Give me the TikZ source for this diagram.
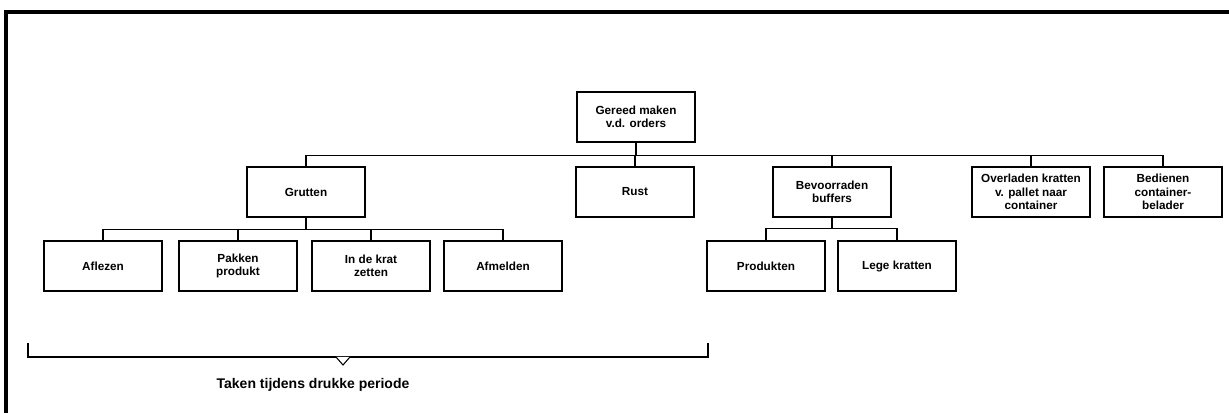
\documentclass[tikz,border=0pt]{standalone}
\usepackage{fontspec}
\setmainfont{Liberation Sans}
\begin{document}
\begin{tikzpicture}[x=0.75pt,y=-0.75pt,
  box/.style={draw, line width=1.1pt, minimum width=88.5pt, minimum height=37.5pt,
    align=center, inner sep=1pt, font=\bfseries\fontsize{8.8}{9.9}\selectfont},
  link/.style={line width=1.1pt}]
\useasboundingbox (0,0) rectangle (1229,413);
% outer frame (left and top edges only)
\draw[line width=2.6pt] (6,413) -- (6,12) -- (1229,12);

% top level
\node[box] (root) at (636,117) {Gereed maken\\v.d. orders};

% first level
\node[box] (grutten) at (306,192) {Grutten};
\node[box] (rust)    at (635,192) {Rust};
\node[box] (bev)     at (832,192) {Bevoorraden\\buffers};
\node[box] (overl)   at (1031,192) {Overladen kratten\\v. pallet naar\\container};
\node[box] (bed)     at (1163,192) {Bedienen\\container-\\belader};

% second level
\node[box] (afl)  at (103,266) {Aflezen};
\node[box] (pak)  at (238,266) {Pakken\\produkt};
\node[box] (krat) at (371,266) {In de krat\\zetten};
\node[box] (afm)  at (503,266) {Afmelden};
\node[box] (prod) at (766,266) {Produkten};
\node[box] (lege) at (897,266) {Lege kratten};

% connectors: root to first level
\path (root.south) ++(0,13) coordinate (b1);
\draw[link] (root.south) -- (b1);
\draw[link] (grutten.north) |- (b1) -| (bed.north);
\foreach \n in {rust,bev,overl} \draw[link] (\n.north) -- (\n.north |- b1);

% Grutten to its subtasks
\path (grutten.south) ++(0,12) coordinate (b2);
\draw[link] (grutten.south) -- (b2);
\draw[link] (afl.north) |- (b2) -| (afm.north);
\foreach \n in {pak,krat} \draw[link] (\n.north) -- (\n.north |- b2);

% Bevoorraden buffers to its subtasks
\path (bev.south) ++(0,11) coordinate (b3);
\draw[link] (bev.south) -- (b3);
\draw[link] (prod.north) |- (b3) -| (lege.north);

% bracket over the busy-period tasks
\coordinate (brl) at (28,343);
\coordinate (brr) at (708,343);
\draw[link] (brl) -- (brl |- 0,357) -- (brr |- 0,357) -- (brr);
\draw[line width=0.8pt, fill=white] (336,357) -- (343,365) -- (350,357);
\node[font=\bfseries\fontsize{10.5}{12}\selectfont] (caption) at (313,385) {Taken tijdens drukke periode};
\end{tikzpicture}
\end{document}
